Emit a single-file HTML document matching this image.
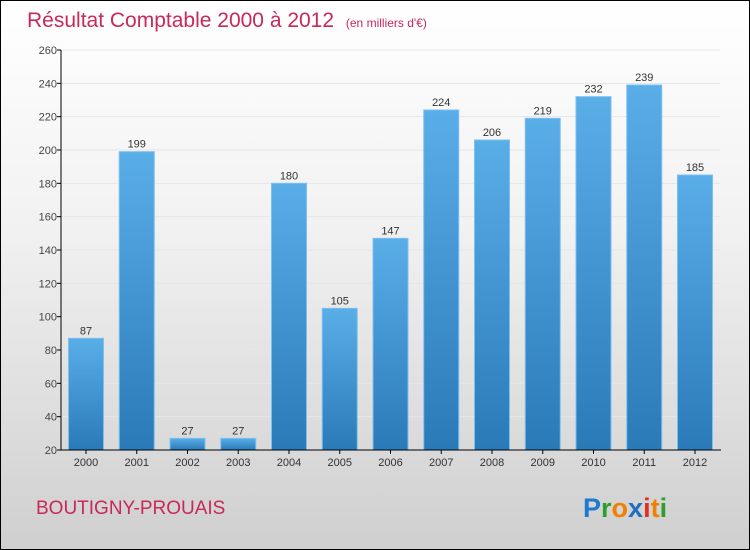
<!DOCTYPE html>
<html><head><meta charset="utf-8"><style>
html,body{margin:0;padding:0}
body{width:750px;height:550px;overflow:hidden;font-family:"Liberation Sans",sans-serif}
#wrap{position:absolute;left:0;top:0;width:748px;height:548px;border:1px solid #000;background:linear-gradient(#ffffff,#f2f2f2 40%,#cfcfcf)}
</style></head><body>
<div id="wrap">
<svg width="750" height="550" style="position:absolute;left:-1px;top:-1px">
<defs><linearGradient id="bg" x1="0" y1="0" x2="0" y2="1"><stop offset="0" stop-color="#5aaee8"/><stop offset="1" stop-color="#2a7ab8"/></linearGradient></defs>
<text x="27" y="27" font-size="21" fill="#c8285a">Résultat Comptable 2000 à 2012 <tspan font-size="12" dx="6">(en milliers d'€)</tspan></text>
<g id="grid"></g><g id="bars"></g><g id="axes"></g>
<text x="36" y="514" font-size="19" fill="#c8285a">BOUTIGNY-PROUAIS</text>
<g font-size="27" font-weight="bold" font-family="Liberation Sans, sans-serif">
<text x="583" y="517"><tspan fill="#1e7ad0">P</tspan><tspan fill="#2ca02c">r</tspan><tspan fill="#f08000">o</tspan><tspan fill="#1e6fc0">x</tspan><tspan fill="#e03020">i</tspan><tspan fill="#f08000">t</tspan><tspan fill="#2ca02c">i</tspan></text></g>
</svg></div>
<script>
const years=["2000","2001","2002","2003","2004","2005","2006","2007","2008","2009","2010","2011","2012"];
const values=[87,199,27,27,180,105,147,224,206,219,232,239,185];
const ticks=[20,40,60,80,100,120,140,160,180,200,220,240,260];
const NS="http://www.w3.org/2000/svg";
const y0=450,y1=50,vmin=20,vmax=260,x0=61,step=50.75,bw=35;
const yS=v=>y0-(v-vmin)*(y0-y1)/(vmax-vmin);
const xC=i=>86+i*step;
function mk(t,a,p){const e=document.createElementNS(NS,t);for(const k in a)e.setAttribute(k,a[k]);p.appendChild(e);return e;}
const grid=document.getElementById('grid'),bars=document.getElementById('bars'),axes=document.getElementById('axes');
ticks.forEach(t=>{
 const l=mk('line',{x1:x0,x2:720,y1:yS(t),y2:yS(t),stroke:'#e6e6e6','stroke-width':1},grid);
 
 
 mk('line',{x1:x0-4,x2:x0,y1:yS(t),y2:yS(t),stroke:'#000'},axes);
 const tx=mk('text',{x:x0-4,y:yS(t)+4,'text-anchor':'end','font-size':11,fill:'#444'},axes);
 tx.textContent=t;
 
 
});
values.forEach((v,i)=>{
 const r=mk('rect',{x:xC(i)-bw/2,y:yS(v),width:bw,height:y0-yS(v),fill:'url(#bg)',stroke:'#7cc0f0','stroke-width':1},bars);
 
 
 const vl=mk('text',{x:xC(i),y:yS(v)-4,'text-anchor':'middle','font-size':11,fill:'#333'},bars);
 vl.textContent=v;
 
 
 mk('line',{x1:xC(i),x2:xC(i),y1:y0,y2:y0+4,stroke:'#000'},axes);
 const xl=mk('text',{x:xC(i),y:y0+16,'text-anchor':'middle','font-size':11,fill:'#333'},axes);
 xl.textContent=years[i];
 
 
});
const ya=mk('line',{x1:x0,x2:x0,y1:y1,y2:y0,stroke:'#000'},axes);


const xa=mk('line',{x1:x0,x2:721,y1:y0,y2:y0,stroke:'#000'},axes);


</script>
</body></html>
